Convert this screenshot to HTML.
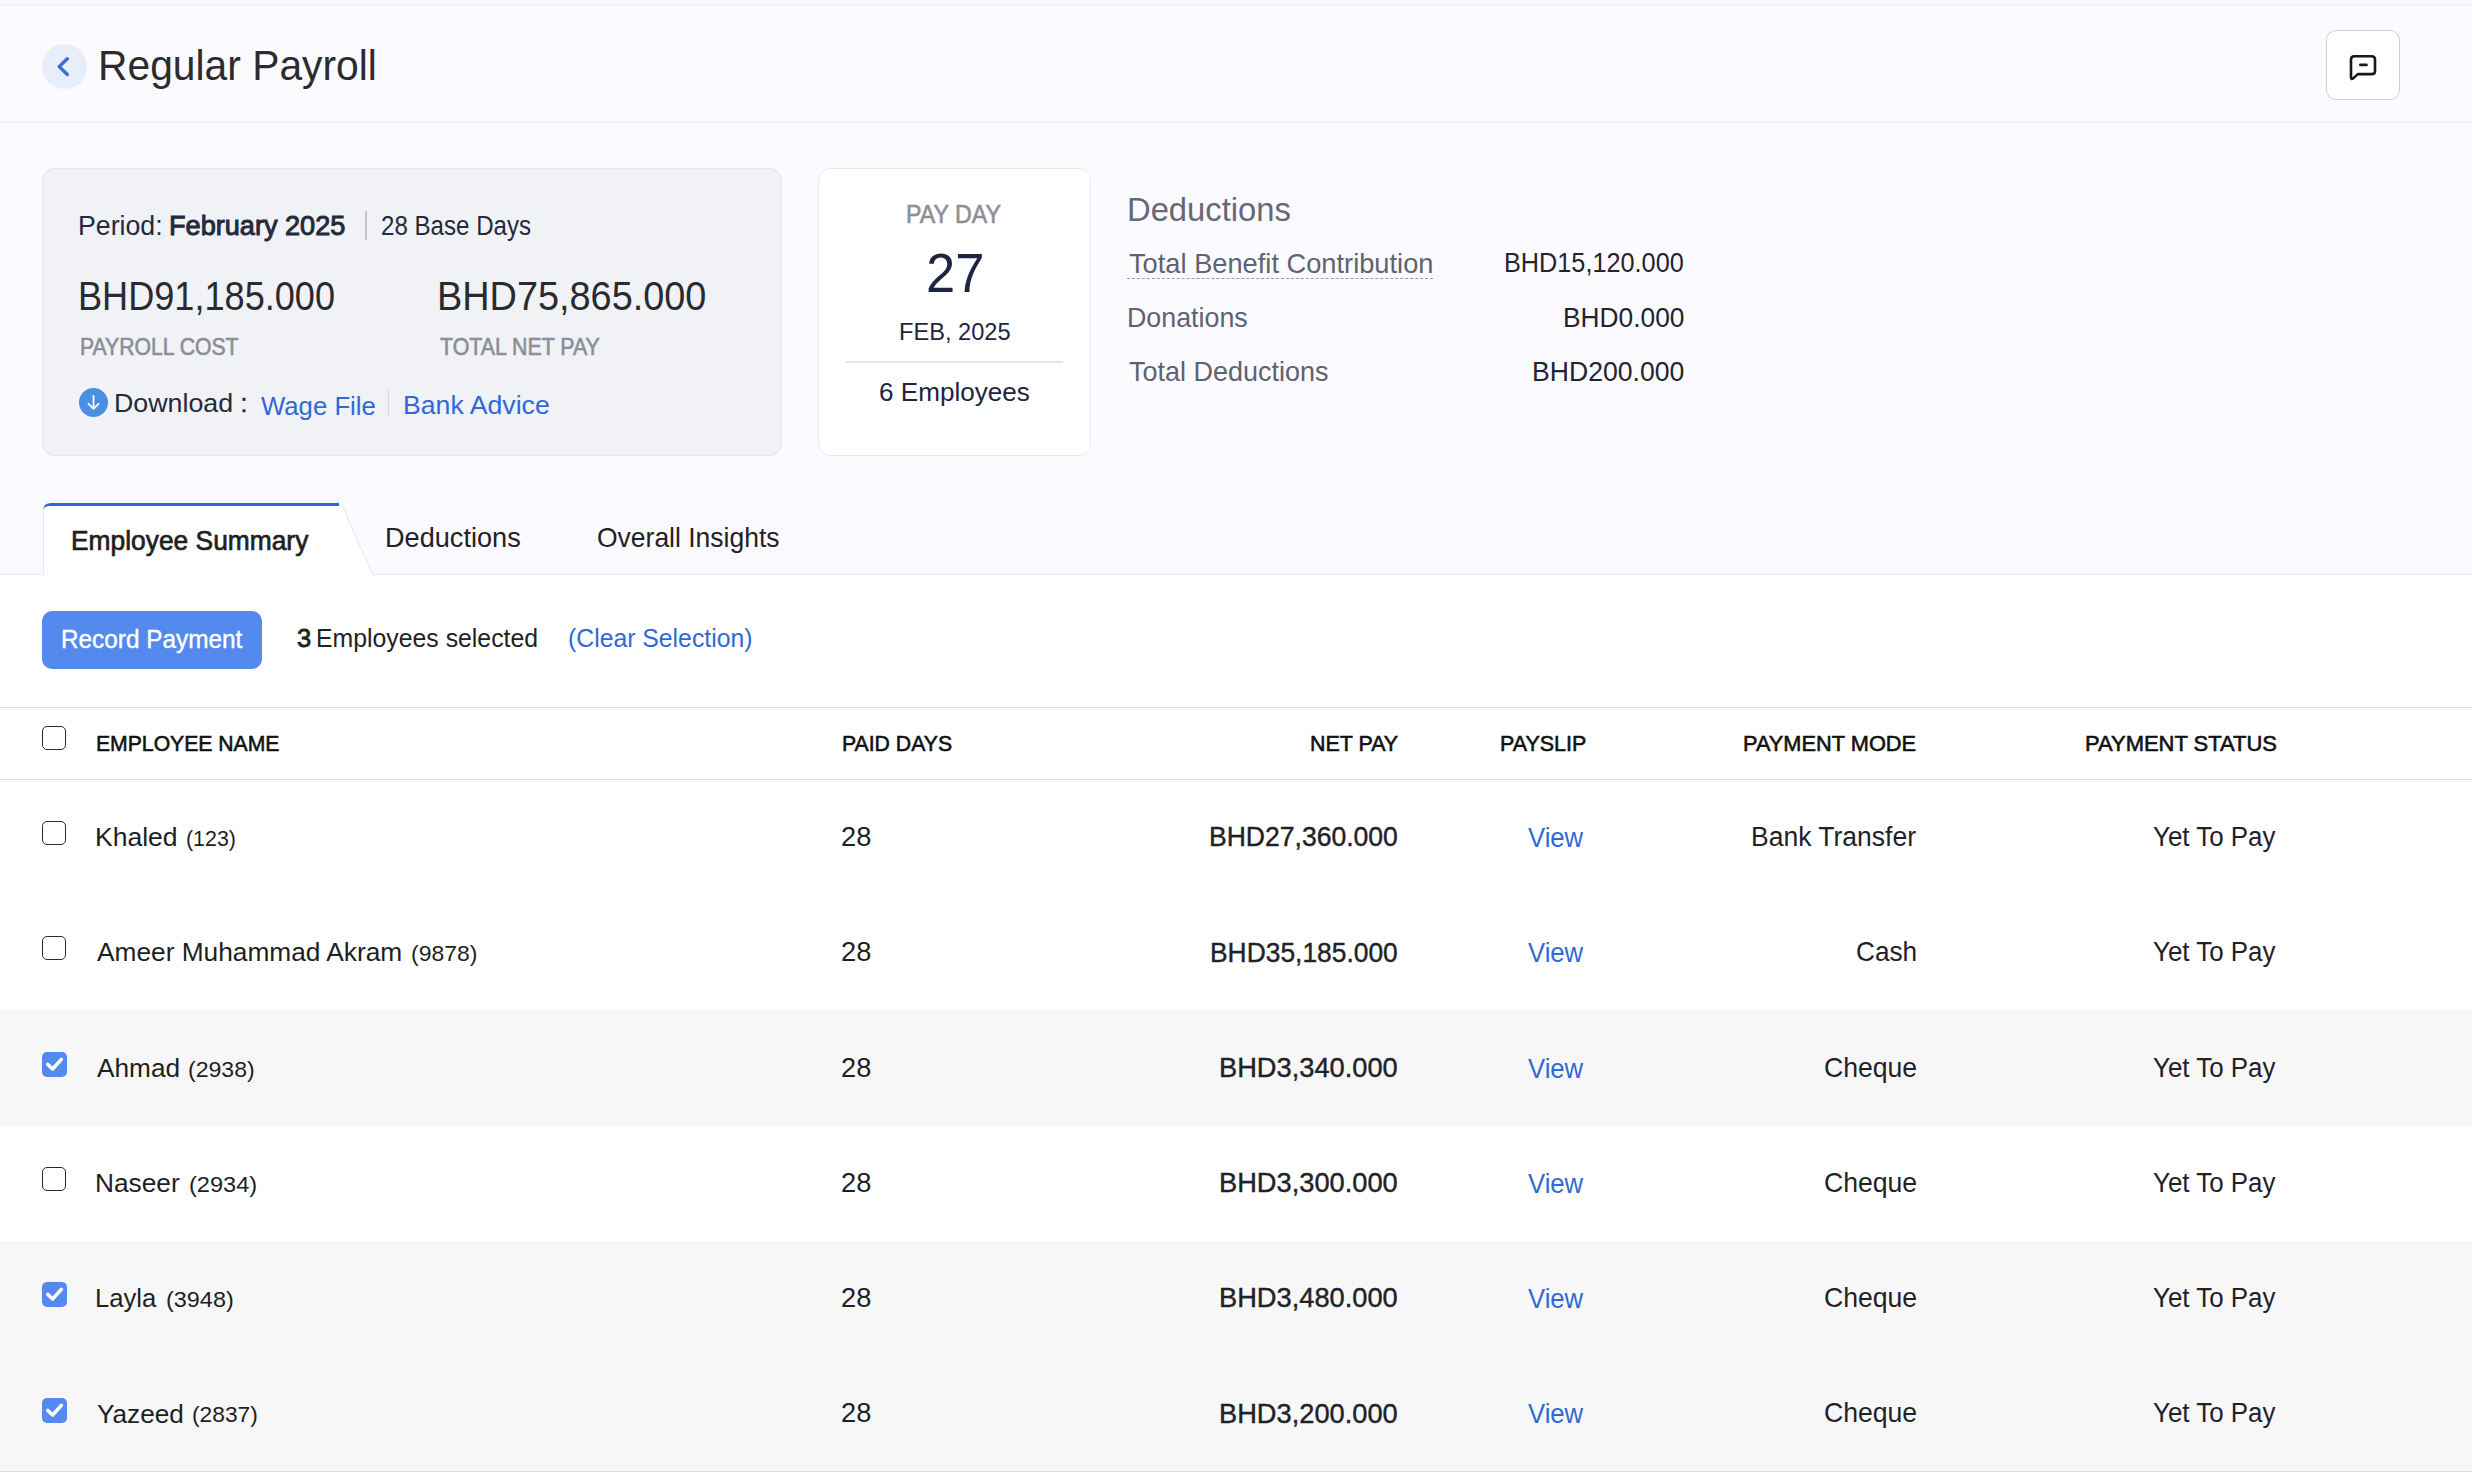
<!DOCTYPE html>
<html><head><meta charset="utf-8">
<style>
html,body{margin:0;padding:0;}
body{width:2472px;height:1480px;overflow:hidden;position:relative;background:#ffffff;font-family:"Liberation Sans",sans-serif;}
.t{position:absolute;white-space:nowrap;line-height:1;transform-origin:0 0;}
.abs{position:absolute;}
.cb{position:absolute;left:42px;width:22px;height:22px;border:1.5px solid #2a2a2a;border-radius:5px;box-sizing:content-box;background:#fff;}
.cb.on{border:none;width:25px;height:25px;background:#548aed;}
.cb svg{position:absolute;left:0;top:0;}
</style></head><body>
<!-- top strip -->
<div class="abs" style="left:0;top:0;width:2472px;height:5px;background:#f7f7fc"></div>
<div class="abs" style="left:0;top:5px;width:2472px;height:1px;background:#efefef"></div>
<!-- header/summary bg -->
<div class="abs" style="left:0;top:6px;width:2472px;height:569px;background:#fbfaff"></div>
<div class="abs" style="left:0;top:122px;width:2472px;height:1px;background:#ececf0"></div>
<!-- back button -->
<div class="abs" style="left:42px;top:44px;width:45px;height:45px;border-radius:50%;background:#e8eef9"></div>
<svg class="abs" style="left:42px;top:44px" width="45" height="45" viewBox="0 0 45 45"><path d="M25.3 14.7 L17.2 22.6 L25.3 30.5" fill="none" stroke="#3b6fd6" stroke-width="3.4" stroke-linecap="round" stroke-linejoin="round"/></svg>
<!-- chat button -->
<div class="abs" style="left:2326px;top:30px;width:72px;height:68px;border:1px solid #cfcfd3;border-radius:10px;background:#fff"></div>
<svg class="abs" style="left:2340px;top:45px" width="46" height="46" viewBox="0 0 46 46"><path d="M11 31 L11 14.5 Q11 11.3 14.3 11.3 L31.7 11.3 Q35 11.3 35 14.5 L35 25.9 Q35 29.1 31.7 29.1 L17.8 29.1 L13.2 33.4 Q11 35 11 32 Z" fill="none" stroke="#16181d" stroke-width="2.6" stroke-linejoin="round"/><path d="M20.3 19.9 L26.5 19.9" stroke="#16181d" stroke-width="2.6" stroke-linecap="round"/></svg>
<!-- card 1 -->
<div class="abs" style="left:42px;top:168px;width:738px;height:286px;border:1px solid #e6e7ec;border-radius:12px;background:#f1f2f6"></div>
<div class="abs" style="left:365px;top:211px;width:1.5px;height:29px;background:#c2c4ca"></div>
<div class="abs" style="left:388px;top:388px;width:1px;height:29px;background:#d6d8de"></div>
<div class="abs" style="left:79px;top:388px;width:29px;height:29px;border-radius:50%;background:#4a90e2"></div>
<svg class="abs" style="left:79px;top:388px" width="29" height="29" viewBox="0 0 29 29"><path d="M14.5 8 L14.5 20.5 M9.5 15.8 L14.5 20.8 L19.5 15.8" fill="none" stroke="#fff" stroke-width="1.8" stroke-linecap="round" stroke-linejoin="round"/></svg>
<!-- pay day card -->
<div class="abs" style="left:818px;top:168px;width:271px;height:286px;border:1px solid #e9e9ee;border-radius:12px;background:#ffffff"></div>
<div class="abs" style="left:846px;top:361px;width:217px;height:2px;background:#e6e6ea"></div>
<!-- dashed underline -->
<div class="abs" style="left:1127px;top:278px;width:306px;height:0;border-top:1.5px dashed #9a9ca6"></div>
<!-- tabs bottom line -->
<div class="abs" style="left:0;top:574px;width:2472px;height:1px;background:#e8e8ec"></div>
<div class="abs" style="left:0;top:575px;width:2472px;height:905px;background:#ffffff"></div>
<!-- active tab -->
<svg class="abs" style="left:0;top:495px" width="400" height="90" viewBox="0 0 400 90"><path d="M43 81 L43 16 Q43 9 50 9 L339 9 Q344 10 348.7 25.5 L373.5 81 Z" fill="#fff"/><path d="M43.5 80 L43.5 16 Q43.5 9.5 50 9.5 L339 9.5 Q344 10.5 348.7 25.5 L373 80" fill="none" stroke="#e6e6ea" stroke-width="1"/><path d="M43.5 14 Q44 8 51 8 L339 8 L339 11 L50 11 Q44 11 43.5 15 Z" fill="#2e67d8"/></svg>
<!-- action button -->
<div class="abs" style="left:42px;top:611px;width:220px;height:58px;border-radius:10px;background:#548aee"></div>
<!-- table lines -->
<div class="abs" style="left:0;top:707px;width:2472px;height:1px;background:#dddddd"></div>
<div style="position:absolute;left:0;top:1010px;width:2472px;height:116px;background:#f7f7f7"></div>
<div style="position:absolute;left:0;top:1241px;width:2472px;height:115px;background:#f7f7f7"></div>
<div style="position:absolute;left:0;top:1356px;width:2472px;height:115px;background:#f7f7f7"></div>
<div class="abs" style="left:0;top:779px;width:2472px;height:1px;background:#dddddd"></div>
<div class="abs" style="left:0;top:1471px;width:2472px;height:1px;background:#dddddd"></div>
<div class="cb" style="top:726px"></div>
<div class="cb" style="top:821px"></div>
<div class="cb" style="top:936px"></div>
<div class="cb on" style="top:1052px"><svg width="25" height="25" viewBox="0 0 25 25"><path d="M5.8 12.5 L10.6 17 L19.4 7.4" fill="none" stroke="#fff" stroke-width="3.6" stroke-linecap="round" stroke-linejoin="round"/></svg></div>
<div class="cb" style="top:1167px"></div>
<div class="cb on" style="top:1282px"><svg width="25" height="25" viewBox="0 0 25 25"><path d="M5.8 12.5 L10.6 17 L19.4 7.4" fill="none" stroke="#fff" stroke-width="3.6" stroke-linecap="round" stroke-linejoin="round"/></svg></div>
<div class="cb on" style="top:1398px"><svg width="25" height="25" viewBox="0 0 25 25"><path d="M5.8 12.5 L10.6 17 L19.4 7.4" fill="none" stroke="#fff" stroke-width="3.6" stroke-linecap="round" stroke-linejoin="round"/></svg></div>
<div class="t" style="left:98.15px;top:44.16px;font-size:42.88px;color:#2c2c2e;transform:scaleX(0.9514);">Regular Payroll</div>
<div class="t" style="left:78.10px;top:210.90px;font-size:28.20px;color:#252a3b;transform:scaleX(0.9476);">Period:</div>
<div class="t" style="left:169.36px;top:210.90px;font-size:28.20px;color:#252a3b;-webkit-text-stroke:1.0px #252a3b;transform:scaleX(0.9617);">February 2025</div>
<div class="t" style="left:380.54px;top:210.50px;font-size:28.20px;color:#252a3b;transform:scaleX(0.8556);">28 Base Days</div>
<div class="t" style="left:78.29px;top:277.11px;font-size:39.97px;color:#2a2b2e;transform:scaleX(0.9036);">BHD91,185.000</div>
<div class="t" style="left:437.46px;top:277.11px;font-size:39.97px;color:#2a2b2e;transform:scaleX(0.9472);">BHD75,865.000</div>
<div class="t" style="left:79.87px;top:335.83px;font-size:23.55px;color:#8a8e98;-webkit-text-stroke:0.6px #8a8e98;transform:scaleX(0.8996);">PAYROLL COST</div>
<div class="t" style="left:440.27px;top:335.83px;font-size:23.55px;color:#8a8e98;-webkit-text-stroke:0.6px #8a8e98;transform:scaleX(0.9069);">TOTAL NET PAY</div>
<div class="t" style="left:114.45px;top:390.22px;font-size:26.16px;color:#252a3b;transform:scaleX(1.0241);">Download</div>
<div class="t" style="left:240.20px;top:390.22px;font-size:26.16px;color:#252a3b;-webkit-text-stroke:0.4px #252a3b;">:</div>
<div class="t" style="left:261.00px;top:392.70px;font-size:26.60px;color:#2f69d6;transform:scaleX(0.9671);">Wage File</div>
<div class="t" style="left:402.70px;top:391.80px;font-size:26.60px;color:#2f69d6;transform:scaleX(1.0024);">Bank Advice</div>
<div class="t" style="left:906.46px;top:202.01px;font-size:25.58px;color:#8c9098;-webkit-text-stroke:0.6px #8c9098;transform:scaleX(0.9062);">PAY DAY</div>
<div class="t" style="left:926.10px;top:246.08px;font-size:55.23px;color:#1f2440;transform:scaleX(0.9504);">27</div>
<div class="t" style="left:898.60px;top:321.23px;font-size:23.55px;color:#1f2440;transform:scaleX(1.0027);">FEB, 2025</div>
<div class="t" style="left:879.02px;top:379.10px;font-size:26.60px;color:#1f2440;transform:scaleX(0.9813);">6 Employees</div>
<div class="t" style="left:1126.98px;top:194.29px;font-size:32.41px;color:#666874;transform:scaleX(1.0105);">Deductions</div>
<div class="t" style="left:1128.60px;top:249.54px;font-size:27.33px;color:#5f6270;transform:scaleX(0.9971);">Total Benefit Contribution</div>
<div class="t" style="left:1126.64px;top:304.24px;font-size:27.33px;color:#5f6270;transform:scaleX(0.9815);">Donations</div>
<div class="t" style="left:1128.60px;top:358.44px;font-size:27.33px;color:#5f6270;transform:scaleX(0.9873);">Total Deductions</div>
<div class="t" style="left:1504.33px;top:249.98px;font-size:27.04px;color:#22252c;transform:scaleX(0.9343);">BHD15,120.000</div>
<div class="t" style="left:1562.65px;top:304.58px;font-size:27.04px;color:#22252c;transform:scaleX(0.9735);">BHD0.000</div>
<div class="t" style="left:1531.83px;top:358.68px;font-size:27.04px;color:#22252c;transform:scaleX(0.9837);">BHD200.000</div>
<div class="t" style="left:71.38px;top:528.36px;font-size:26.89px;color:#1f1f1f;-webkit-text-stroke:0.7px #1f1f1f;transform:scaleX(0.9809);">Employee Summary</div>
<div class="t" style="left:385.39px;top:524.98px;font-size:27.04px;color:#222;transform:scaleX(1.0034);">Deductions</div>
<div class="t" style="left:596.92px;top:524.98px;font-size:27.04px;color:#222;transform:scaleX(0.9796);">Overall Insights</div>
<div class="t" style="left:60.66px;top:627.03px;font-size:25.15px;color:#ffffff;-webkit-text-stroke:0.4px #ffffff;transform:scaleX(0.9680);">Record Payment</div>
<div class="t" style="left:297.41px;top:626.03px;font-size:25.15px;color:#222;-webkit-text-stroke:0.8px #222;transform:scaleX(1.0145);">3</div>
<div class="t" style="left:316.03px;top:626.03px;font-size:25.15px;color:#222;transform:scaleX(0.9870);">Employees selected</div>
<div class="t" style="left:567.61px;top:626.03px;font-size:25.15px;color:#2f69d6;transform:scaleX(0.9851);">(Clear Selection)</div>
<div class="t" style="left:95.65px;top:732.42px;font-size:22.97px;color:#111;-webkit-text-stroke:0.6px #111;transform:scaleX(0.9215);">EMPLOYEE NAME</div>
<div class="t" style="left:841.55px;top:732.42px;font-size:22.97px;color:#111;-webkit-text-stroke:0.6px #111;transform:scaleX(0.9236);">PAID DAYS</div>
<div class="t" style="left:1309.65px;top:732.42px;font-size:22.97px;color:#111;-webkit-text-stroke:0.6px #111;transform:scaleX(0.9331);">NET PAY</div>
<div class="t" style="left:1499.65px;top:732.42px;font-size:22.97px;color:#111;-webkit-text-stroke:0.6px #111;transform:scaleX(0.9337);">PAYSLIP</div>
<div class="t" style="left:1742.94px;top:732.42px;font-size:22.97px;color:#111;-webkit-text-stroke:0.6px #111;transform:scaleX(0.9485);">PAYMENT MODE</div>
<div class="t" style="left:2085.13px;top:732.42px;font-size:22.97px;color:#111;-webkit-text-stroke:0.6px #111;transform:scaleX(0.9558);">PAYMENT STATUS</div>
<div class="t" style="left:95.49px;top:824.17px;font-size:26.45px;color:#1d1f23;transform:scaleX(1.0036);">Khaled</div>
<div class="t" style="left:185.84px;top:827.71px;font-size:22.38px;color:#1d1f23;transform:scaleX(0.9550);">(123)</div>
<div class="t" style="left:841.18px;top:824.03px;font-size:26.74px;color:#1d1f23;transform:scaleX(1.0191);">28</div>
<div class="t" style="left:1208.64px;top:823.31px;font-size:27.18px;color:#1f2227;-webkit-text-stroke:0.4px #1f2227;transform:scaleX(0.9768);">BHD27,360.000</div>
<div class="t" style="left:1528.40px;top:824.63px;font-size:26.74px;color:#2f69d6;transform:scaleX(0.9595);">View</div>
<div class="t" style="left:1750.72px;top:824.03px;font-size:26.74px;color:#1f2227;transform:scaleX(0.9915);">Bank Transfer</div>
<div class="t" style="left:2153.00px;top:824.03px;font-size:26.74px;color:#1f2227;transform:scaleX(0.9689);">Yet To Pay</div>
<div class="t" style="left:97.00px;top:939.37px;font-size:26.45px;color:#1d1f23;transform:scaleX(0.9938);">Ameer Muhammad Akram</div>
<div class="t" style="left:410.98px;top:942.91px;font-size:22.38px;color:#1d1f23;transform:scaleX(1.0249);">(9878)</div>
<div class="t" style="left:841.18px;top:939.23px;font-size:26.74px;color:#1d1f23;transform:scaleX(1.0191);">28</div>
<div class="t" style="left:1209.75px;top:938.51px;font-size:27.18px;color:#1f2227;-webkit-text-stroke:0.4px #1f2227;transform:scaleX(0.9710);">BHD35,185.000</div>
<div class="t" style="left:1528.40px;top:939.83px;font-size:26.74px;color:#2f69d6;transform:scaleX(0.9595);">View</div>
<div class="t" style="left:1856.02px;top:939.23px;font-size:26.74px;color:#1f2227;transform:scaleX(0.9795);">Cash</div>
<div class="t" style="left:2153.00px;top:939.23px;font-size:26.74px;color:#1f2227;transform:scaleX(0.9689);">Yet To Pay</div>
<div class="t" style="left:96.50px;top:1055.07px;font-size:26.45px;color:#1d1f23;transform:scaleX(0.9919);">Ahmad</div>
<div class="t" style="left:187.77px;top:1058.61px;font-size:22.38px;color:#1d1f23;transform:scaleX(1.0312);">(2938)</div>
<div class="t" style="left:841.18px;top:1054.93px;font-size:26.74px;color:#1d1f23;transform:scaleX(1.0191);">28</div>
<div class="t" style="left:1218.80px;top:1054.21px;font-size:27.18px;color:#1f2227;-webkit-text-stroke:0.4px #1f2227;transform:scaleX(1.0026);">BHD3,340.000</div>
<div class="t" style="left:1528.40px;top:1055.53px;font-size:26.74px;color:#2f69d6;transform:scaleX(0.9595);">View</div>
<div class="t" style="left:1824.01px;top:1054.93px;font-size:26.74px;color:#1f2227;transform:scaleX(0.9948);">Cheque</div>
<div class="t" style="left:2153.00px;top:1054.93px;font-size:26.74px;color:#1f2227;transform:scaleX(0.9689);">Yet To Pay</div>
<div class="t" style="left:95.01px;top:1170.17px;font-size:26.45px;color:#1d1f23;transform:scaleX(0.9938);">Naseer</div>
<div class="t" style="left:188.65px;top:1173.71px;font-size:22.38px;color:#1d1f23;transform:scaleX(1.0534);">(2934)</div>
<div class="t" style="left:841.18px;top:1170.03px;font-size:26.74px;color:#1d1f23;transform:scaleX(1.0191);">28</div>
<div class="t" style="left:1218.80px;top:1169.31px;font-size:27.18px;color:#1f2227;-webkit-text-stroke:0.4px #1f2227;transform:scaleX(1.0026);">BHD3,300.000</div>
<div class="t" style="left:1528.40px;top:1170.63px;font-size:26.74px;color:#2f69d6;transform:scaleX(0.9595);">View</div>
<div class="t" style="left:1824.01px;top:1170.03px;font-size:26.74px;color:#1f2227;transform:scaleX(0.9948);">Cheque</div>
<div class="t" style="left:2153.00px;top:1170.03px;font-size:26.74px;color:#1f2227;transform:scaleX(0.9689);">Yet To Pay</div>
<div class="t" style="left:95.06px;top:1285.17px;font-size:26.45px;color:#1d1f23;transform:scaleX(0.9691);">Layla</div>
<div class="t" style="left:165.95px;top:1288.71px;font-size:22.38px;color:#1d1f23;transform:scaleX(1.0470);">(3948)</div>
<div class="t" style="left:841.18px;top:1285.03px;font-size:26.74px;color:#1d1f23;transform:scaleX(1.0191);">28</div>
<div class="t" style="left:1218.80px;top:1284.31px;font-size:27.18px;color:#1f2227;-webkit-text-stroke:0.4px #1f2227;transform:scaleX(1.0026);">BHD3,480.000</div>
<div class="t" style="left:1528.40px;top:1285.63px;font-size:26.74px;color:#2f69d6;transform:scaleX(0.9595);">View</div>
<div class="t" style="left:1824.01px;top:1285.03px;font-size:26.74px;color:#1f2227;transform:scaleX(0.9948);">Cheque</div>
<div class="t" style="left:2153.00px;top:1285.03px;font-size:26.74px;color:#1f2227;transform:scaleX(0.9689);">Yet To Pay</div>
<div class="t" style="left:97.00px;top:1400.57px;font-size:26.45px;color:#1d1f23;transform:scaleX(0.9907);">Yazeed</div>
<div class="t" style="left:191.58px;top:1404.11px;font-size:22.38px;color:#1d1f23;transform:scaleX(1.0170);">(2837)</div>
<div class="t" style="left:841.18px;top:1400.43px;font-size:26.74px;color:#1d1f23;transform:scaleX(1.0191);">28</div>
<div class="t" style="left:1218.80px;top:1399.71px;font-size:27.18px;color:#1f2227;-webkit-text-stroke:0.4px #1f2227;transform:scaleX(1.0026);">BHD3,200.000</div>
<div class="t" style="left:1528.40px;top:1401.03px;font-size:26.74px;color:#2f69d6;transform:scaleX(0.9595);">View</div>
<div class="t" style="left:1824.01px;top:1400.43px;font-size:26.74px;color:#1f2227;transform:scaleX(0.9948);">Cheque</div>
<div class="t" style="left:2153.00px;top:1400.43px;font-size:26.74px;color:#1f2227;transform:scaleX(0.9689);">Yet To Pay</div>
</body></html>
